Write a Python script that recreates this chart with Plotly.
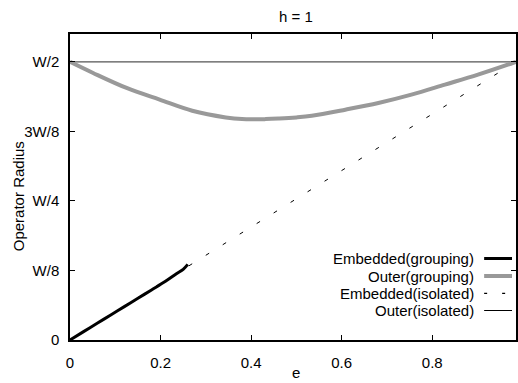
import plotly.graph_objects as go

# ---- data (W units: W = 1) ----
outer_iso_e = [0.0, 0.985]
outer_iso_r = [0.5, 0.5]

emb_iso_e = [0.0, 0.985]
emb_iso_r = [0.0, 0.5]

outer_grp_e = [0.0, 0.051, 0.125, 0.198, 0.270, 0.344, 0.380, 0.432, 0.462, 0.500,
               0.534, 0.608, 0.681, 0.754, 0.828, 0.901, 0.985]
outer_grp_r = [0.500, 0.480, 0.453, 0.432, 0.412, 0.400, 0.397, 0.397, 0.398, 0.400,
               0.403, 0.414, 0.426, 0.441, 0.459, 0.477, 0.500]

emb_grp_e = [0.0, 0.03, 0.06, 0.09, 0.12, 0.15, 0.18, 0.21, 0.235, 0.25, 0.26]
emb_grp_r = [0.0, 0.015, 0.030, 0.045, 0.060, 0.075, 0.090, 0.105, 0.119, 0.127, 0.136]

y_tickvals = [0, 0.125, 0.25, 0.375, 0.5]
y_ticktext = ["0", "W/8", "W/4", "3W/8", "W/2"]
x_tickvals = [0, 0.2, 0.4, 0.6, 0.8]
x_ticktext = ["0", "0.2", "0.4", "0.6", "0.8"]

legend_names = ["Embedded(grouping)", "Outer(grouping)", "Embedded(isolated)", "Outer(isolated)"]

FONT = "Liberation Sans, Arial, sans-serif"

fig = go.Figure()
fig.add_trace(go.Scatter(x=outer_iso_e, y=outer_iso_r, mode="lines",
                         line=dict(color="#555555", width=1.2), showlegend=False))
fig.add_trace(go.Scatter(x=emb_iso_e, y=emb_iso_r, mode="lines",
                         line=dict(color="black", width=1, dash="4px,16px"), showlegend=False))
fig.add_trace(go.Scatter(x=outer_grp_e, y=outer_grp_r, mode="lines", line_shape="spline",
                         line=dict(color="#999999", width=4), showlegend=False))
fig.add_trace(go.Scatter(x=emb_grp_e, y=emb_grp_r, mode="lines", line_shape="spline",
                         line=dict(color="black", width=3), showlegend=False))

# ---- manual legend (text left of sample, gnuplot style) ----
L, T, B, PW = 70, 34, 340, 448
PH = B - T
def px(x):
    return (x - L) / PW
def py(y):
    return (B - y) / PH

rows_y = [258.5, 276, 293.3, 310.5]
styles = [dict(color="black", width=3),
          dict(color="#999999", width=4),
          dict(color="black", width=1.2, dash="3px,15px"),
          dict(color="black", width=1)]
for name, yy, st in zip(legend_names, rows_y, styles):
    fig.add_annotation(x=px(478), y=py(yy), xref="paper", yref="paper", text=name,
                       showarrow=False, xanchor="right", yanchor="middle",
                       font=dict(family=FONT, size=15, color="black"))
    fig.add_shape(type="line", xref="paper", yref="paper", x0=px(486), x1=px(514),
                  y0=py(yy), y1=py(yy), line=st)

# axis titles
fig.add_annotation(x=px(18), y=py(196), xref="paper", yref="paper", text="Operator Radius",
                   textangle=-90, showarrow=False, xanchor="center", yanchor="middle",
                   font=dict(family=FONT, size=15, color="black"))
fig.add_annotation(x=px(297), y=py(372), xref="paper", yref="paper", text="e",
                   showarrow=False, xanchor="center", yanchor="middle",
                   font=dict(family=FONT, size=15, color="black"))
fig.add_annotation(x=px(297), y=py(17), xref="paper", yref="paper", text="h = 1",
                   showarrow=False, xanchor="center", yanchor="middle",
                   font=dict(family=FONT, size=15, color="black"))

fig.update_layout(
    width=518, height=383,
    margin=dict(l=L, r=0, t=T, b=383 - B, pad=0),
    paper_bgcolor="white", plot_bgcolor="white",
    font=dict(family=FONT, size=15, color="black"),
    showlegend=False,
    xaxis=dict(range=[0, 0.985], tickvals=x_tickvals, ticktext=x_ticktext,
               ticks="inside", ticklen=5, tickwidth=1.2, tickcolor="black",
               showline=True, linecolor="black", linewidth=1.5, mirror="ticks",
               showgrid=False, zeroline=False, ticklabelstandoff=8),
    yaxis=dict(range=[0, 0.55], tickvals=y_tickvals, ticktext=y_ticktext,
               ticks="inside", ticklen=5, tickwidth=1.2, tickcolor="black",
               showline=True, linecolor="black", linewidth=1.5, mirror="ticks",
               showgrid=False, zeroline=False, ticklabelstandoff=6),
)

fig.write_html("out.html")
